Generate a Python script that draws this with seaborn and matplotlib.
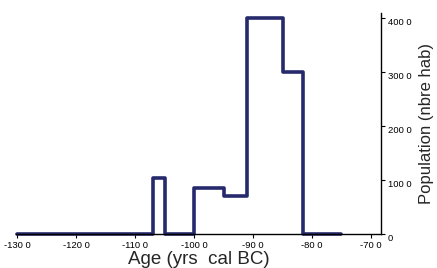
import seaborn as sns
import matplotlib.pyplot as plt
import pandas as pd

# step edges (yrs cal BC) and population per interval
edges = [-1300, -1070, -1050, -1000, -950, -910, -850, -815, -750]
population = [0, 1030, 0, 850, 700, 4000, 3000, 0]
xticks = [-1300, -1200, -1100, -1000, -900, -800, -700]
xtick_labels = ['-130 0', '-120 0', '-110 0', '-100 0', '-90 0', '-80 0', '-70 0']
yticks = [0, 1000, 2000, 3000, 4000]
ytick_labels = ['0', '100 0', '200 0', '300 0', '400 0']

sns.set_style('white')
plt.rcParams['font.family'] = ['Liberation Sans', 'DejaVu Sans']

df = pd.DataFrame({'age': edges, 'pop': population + [population[-1]]})

fig = plt.figure(figsize=(4.37, 2.68), dpi=100)
ax = fig.add_axes([16 / 437, 34 / 268, 365 / 437, 221 / 268])

sns.lineplot(data=df, x='age', y='pop', estimator=None, sort=False,
             drawstyle='steps-post', color='#262a6c', linewidth=2.6,
             clip_on=False, ax=ax)

ax.set_xlim(-1302, -683)
ax.set_ylim(0, 4100)

for s in ['top', 'left']:
    ax.spines[s].set_visible(False)
for s in ['bottom', 'right']:
    ax.spines[s].set_color('black')
    ax.spines[s].set_linewidth(1.0)

ax.yaxis.tick_right()
ax.yaxis.set_label_position('right')
ax.set_xticks(xticks)
ax.set_xticklabels(xtick_labels)
ax.set_yticks(yticks)
ax.set_yticklabels(ytick_labels, va='top')
ax.tick_params(axis='both', direction='out', length=3, width=0.8,
               labelsize=6.8, pad=2, colors='black',
               bottom=True, right=True, left=False)

ax.set_xlabel('Age (yrs  cal BC)', fontsize=13.5, labelpad=0.5)
ax.set_ylabel('Population (nbre hab)', fontsize=12, labelpad=5)

fig.savefig('out.png', dpi=100)
